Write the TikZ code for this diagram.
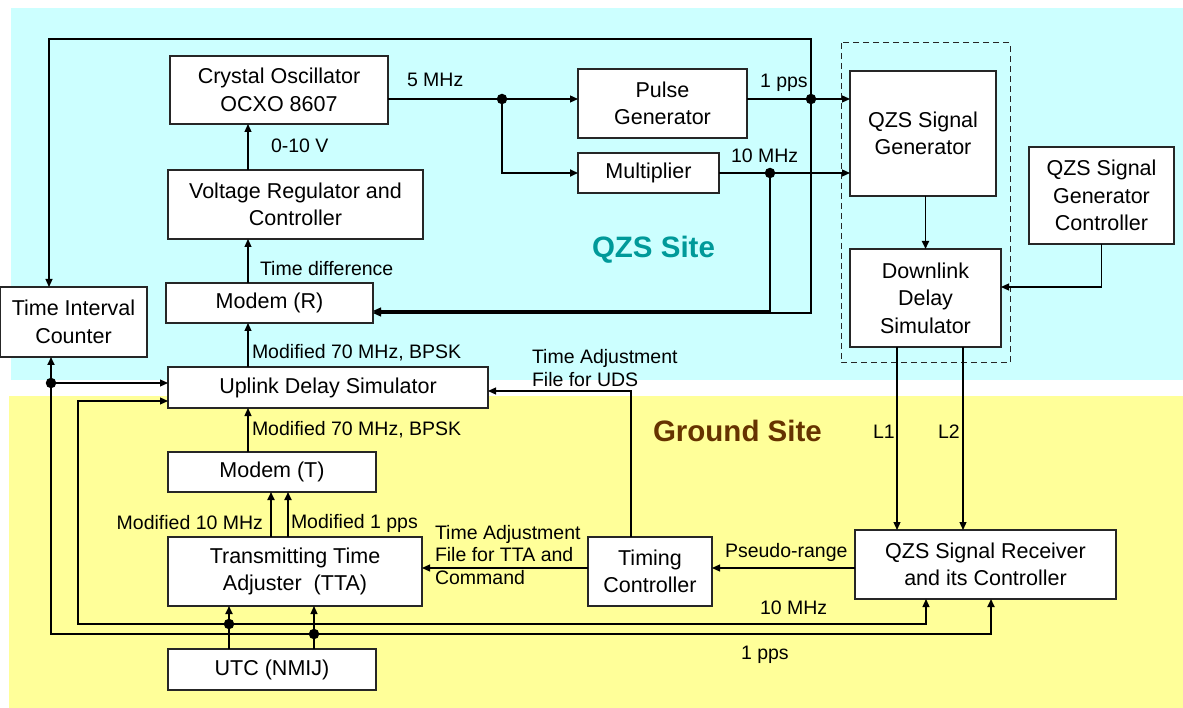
\documentclass[tikz,border=0pt]{standalone}
\usepackage{fontspec}
\setmainfont{Liberation Sans}
\usetikzlibrary{arrows.meta,calc}
\definecolor{SiteSky}{RGB}{204,255,255}
\definecolor{SiteSand}{RGB}{255,255,153}
\definecolor{SiteInk}{gray}{0.15}
\definecolor{SiteTeal}{RGB}{0,153,153}
\definecolor{SiteBrown}{RGB}{102,51,0}
\newcommand{\blockfont}{\fontsize{21.5}{27.5}\selectfont}
\newcommand{\signalfont}{\fontsize{19.5}{22.5}\selectfont}
\tikzset{
    qzs/diagram/.style={
        x=1pt, y=-1pt,
        every node/.style={inner sep=0pt, outer sep=0pt}
    },
    qzs/block/.style={
        draw=SiteInk, fill=white, line width=1.2pt,
        align=center, font=\blockfont
    },
    qzs/wire/.style={draw=black, line width=1.2pt},
    qzs/signal/.style={
        draw=black, line width=1.2pt,
        -{Triangle[length=8pt, width=7pt]}
    },
    qzs/heavy/.style={line width=1.8pt},
    qzs/group/.style={draw=SiteInk, line width=1pt, dash pattern=on 6pt off 4pt},
    qzs/label/.style={font=\signalfont, align=left},
    qzs/point/.style={circle, fill=black, draw=none, minimum size=10.5pt},
    qzs/site/.style={font=\fontsize{29.5}{31}\selectfont\bfseries}
}

\begin{document}
\begin{tikzpicture}[qzs/diagram]
    \useasboundingbox (0,0) rectangle (1183,708);
    \fill[SiteSky] (11,8) rectangle (1183,380);
    \fill[SiteSand] (9,396) rectangle (1183,708);
    \draw[qzs/group] (841,43) rectangle (1010,363);

    \node[qzs/block, minimum width=218pt, minimum height=68pt] (osc) at (279,90) {Crystal Oscillator\\OCXO 8607};
    \node[qzs/block, minimum width=255pt, minimum height=69pt] (vreg) at (295.5,204.5) {Voltage Regulator and\\Controller};
    \node[qzs/block, minimum width=207pt, minimum height=40pt] (modemR) at (269.5,303) {Modem (R)};
    \node[qzs/block, minimum width=147pt, minimum height=70pt] (tic) at (73.5,322) {Time Interval\\Counter};
    \node[qzs/block, minimum width=169pt, minimum height=69pt] (pulse) at (662.5,103.5) {Pulse\\Generator};
    \node[qzs/block, minimum width=141pt, minimum height=40pt] (mult) at (648.5,173) {Multiplier};
    \node[qzs/block, minimum width=146pt, minimum height=125pt] (qzsgen) at (923,133.5) {QZS Signal\\Generator};
    \node[qzs/block, minimum width=151pt, minimum height=98pt] (dds) at (925.5,298) {Downlink\\Delay\\Simulator};
    \node[qzs/block, minimum width=145pt, minimum height=97pt] (sgctrl) at (1101.5,195.5) {QZS Signal\\Generator\\Controller};
    \node[qzs/block, minimum width=320pt, minimum height=41pt] (uds) at (328,387.5) {Uplink Delay Simulator};
    \node[qzs/block, minimum width=208pt, minimum height=40pt] (modemT) at (272,472) {Modem (T)};
    \node[qzs/block, minimum width=254pt, minimum height=69pt] (tta) at (295,571.5) {Transmitting Time\\Adjuster\ \ (TTA)};
    \node[qzs/block, minimum width=208pt, minimum height=41pt] (utc) at (272,669.5) {UTC (NMIJ)};
    \node[qzs/block, minimum width=124pt, minimum height=69pt] (timing) at (650,571.5) {Timing\\Controller};
    \node[qzs/block, minimum width=261pt, minimum height=69pt] (rcvr) at (985.5,564.5) {QZS Signal Receiver\\and its Controller};

    \node[qzs/point] (j5) at (502,99) {};
    \node[qzs/point] (j1) at (811,99) {};
    \node[qzs/point] (j10) at (770,173) {};
    \node[qzs/point] (u10) at (229,624) {};
    \node[qzs/point] (u1) at (314,634) {};
    \node[qzs/point] (t1) at (51,383) {};

    \coordinate (mainX) at (248,0);
    \coordinate (loopNW) at (49,39);
    \coordinate (bus10W) at (78,624);
    \coordinate (bus1W) at (51,634);
    \coordinate (ppsR) at ([yshift=-10pt]modemR.east);
    \coordinate (tenR) at ([yshift=-8pt]modemR.east);
    \coordinate (mod10) at ([xshift=-1pt]modemT.south);
    \coordinate (mod1) at ([xshift=16pt]modemT.south);
    \coordinate (ctrlDDS) at ([yshift=11pt]dds.east);
    \coordinate (linkL1) at ([xshift=-28.5pt]dds.south);
    \coordinate (linkL2) at ([xshift=37.5pt]dds.south);
    \coordinate (rangeT) at ([yshift=3.5pt]timing.east);
    \coordinate (fileTTA) at ([yshift=3.5pt]tta.east);
    \coordinate (fileUDS) at ([yshift=-3.5pt]uds.east);
    \coordinate (rx10) at ([xshift=-59.5pt]rcvr.south);
    \coordinate (rx1) at ([xshift=5.5pt]rcvr.south);
    \coordinate (uds10) at ([yshift=-13.5pt]uds.west);
    \coordinate (uds1) at ([yshift=4.5pt]uds.west);

    \draw[qzs/signal] (vreg.north -| mainX) -- (osc.south -| mainX);
    \draw[qzs/signal] (modemR.north -| mainX) -- (vreg.south -| mainX);
    \draw[qzs/signal] (uds.north -| mainX) -- (modemR.south -| mainX);
    \draw[qzs/signal] (modemT.north -| mainX) -- (uds.south -| mainX);
    \draw[qzs/signal, qzs/heavy] (tta.north -| mod10) -- (mod10);
    \draw[qzs/signal, qzs/heavy] (tta.north -| mod1) -- (mod1);

    \draw[qzs/wire] (osc.east |- j5) -- (j5);
    \draw[qzs/signal] (j5) -- (pulse.west |- j5);
    \draw[qzs/signal, qzs/heavy] (j5) |- (mult.west);
    \draw[qzs/wire] (pulse.east |- j1) -- (j1);
    \draw[qzs/signal] (j1) -- (qzsgen.west |- j1);
    \draw[qzs/wire] (mult.east) -- (j10);
    \draw[qzs/signal] (j10) -- (qzsgen.west |- j10);
    \draw[qzs/signal] (j1) |- (loopNW) -- (tic.north -| loopNW);
    \draw[qzs/signal] (j1) |- (ppsR);
    \draw[qzs/signal] (j10) |- (tenR);

    \draw[qzs/signal, qzs/heavy] (qzsgen.south -| dds.north) -- (dds.north);
    \draw[qzs/signal] (sgctrl.south) |- (ctrlDDS);
    \draw[qzs/signal] (linkL1) -- (linkL1 |- rcvr.north);
    \draw[qzs/signal] (linkL2) -- (linkL2 |- rcvr.north);
    \draw[qzs/signal] (rcvr.west |- rangeT) -- (rangeT);
    \draw[qzs/signal] (timing.west |- fileTTA) -- (fileTTA);
    \draw[qzs/signal] ([xshift=-19pt]timing.north) |- (fileUDS);

    \draw[qzs/signal, qzs/heavy] (utc.north -| u10) -- (tta.south -| u10);
    \draw[qzs/signal] (utc.north -| u1) -- (tta.south -| u1);
    \draw[qzs/signal] (u10) -| (rx10);
    \draw[qzs/signal, qzs/heavy] (u1) -| (rx1);
    \draw[qzs/signal] (u10) -- (bus10W) |- (uds10);
    \draw[qzs/signal, qzs/heavy] (u1) -- (bus1W) -- (tic.south -| bus1W);
    \draw[qzs/signal] (t1) -- (uds1);

    \node[qzs/label, anchor=base west] (lbl5M) at (407,87) {5 MHz};
    \node[qzs/label, anchor=base west] (lblPps) at (760,88) {1 pps};
    \node[qzs/label, anchor=base west] (lbl10M) at (731,163) {10 MHz};
    \node[qzs/label, anchor=base west] (lblVolt) at (271,153) {0-10 V};
    \node[qzs/label, anchor=base west] (lblDiff) at (260,276) {Time difference};
    \node[qzs/label, anchor=base west] (lblUp) at (252,359) {Modified 70 MHz, BPSK};
    \node[qzs/label, anchor=base west] (lblMod) at (252,435) {Modified 70 MHz, BPSK};
    \node[qzs/label, anchor=base east] (lblM10) at (263,529) {Modified 10 MHz};
    \node[qzs/label, anchor=base west] (lblM1) at (291,528) {Modified 1 pps};
    \node[qzs/label, anchor=west] (lblUDS) at (532,368) {Time Adjustment\\File for UDS};
    \node[qzs/label, anchor=west] (lblTTA) at (435,555) {Time Adjustment\\File for TTA and\\Command};
    \node[qzs/label, anchor=base west] (lblRange) at (725,557) {Pseudo-range};
    \node[qzs/label, anchor=base west] (lblBus10) at (760,614) {10 MHz};
    \node[qzs/label, anchor=base west] (lblBus1) at (741,659) {1 pps};
    \node[qzs/label, anchor=base west] (lblL1) at (873,438) {L1};
    \node[qzs/label, anchor=base west] (lblL2) at (938,438) {L2};

    \node[qzs/site, text=SiteTeal, anchor=base west] (qzsSite) at (592,258) {QZS Site};
    \node[qzs/site, text=SiteBrown, anchor=base west] (groundSite) at (653,441) {Ground Site};
\end{tikzpicture}
\end{document}
